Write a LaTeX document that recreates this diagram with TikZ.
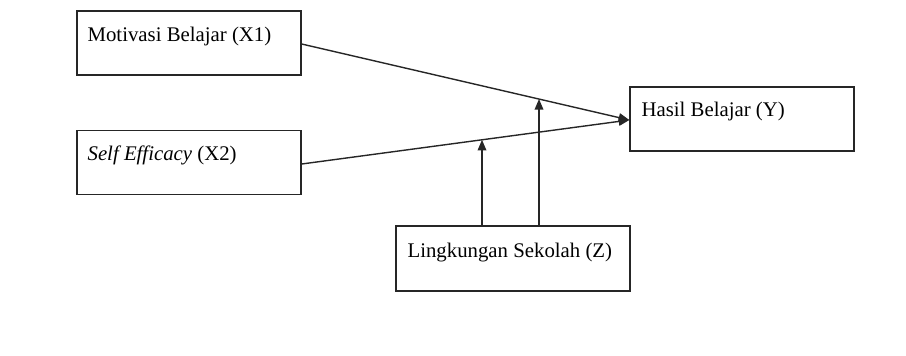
\documentclass[tikz,border=0pt]{standalone}
\usepackage{fontspec}
\setmainfont{Liberation Serif}
\usetikzlibrary{arrows.meta,calc}
\begin{document}
\begin{tikzpicture}[x=0.75pt,y=-0.75pt,
  box/.style={draw=black!85,line width=1pt,rectangle,inner sep=0pt,minimum width=168pt,minimum height=48pt},
  lbl/.style={anchor=base west,inner sep=0pt,font=\fontsize{15.6}{18}\selectfont},
  conn/.style={draw=black!85,line width=1.05pt,-{Triangle[length=8pt,width=6.5pt]}}]
\useasboundingbox (0,0) rectangle (906,355);
\node[box] (x1) at (189,43) {};
\node[box] (x2) at (189,162.5) {};
\node[box] (y) at (742,119) {};
\node[box,minimum width=175.5pt,minimum height=48.75pt] (z) at (513,258.5) {};
\node[lbl] (tx1) at ([shift={(11,31)}]x1.north west) {Motivasi Belajar (X1)};
\node[lbl] (tx2) at ([shift={(11,31)}]x2.north west) {\textit{Self Efficacy} (X2)};
\node[lbl] (ty) at ([shift={(12,30)}]y.north west) {Hasil Belajar (Y)};
\node[lbl] (tz) at ([shift={(12,32)}]z.north west) {Lingkungan Sekolah (Z)};
\coordinate (a1) at ([shift={(0,1)}]x1.east);
\coordinate (a2) at ([shift={(0,1.5)}]x2.east);
\coordinate (yt) at ([shift={(0,1)}]y.west);
\draw[conn] (a1) -- (yt);
\draw[conn] (a2) -- (yt);
\coordinate (m2) at ($(a2)!0.550!(yt)$);
\coordinate (m1) at ($(a1)!0.7234!(yt)$);
\coordinate (z1) at ([shift={(-31,0)}]z.north);
\coordinate (z2) at ([shift={(26,0)}]z.north);
\draw[conn] (z1) -- (z1 |- m2);
\draw[conn] (z2) -- (z2 |- m1);
\end{tikzpicture}
\end{document}
